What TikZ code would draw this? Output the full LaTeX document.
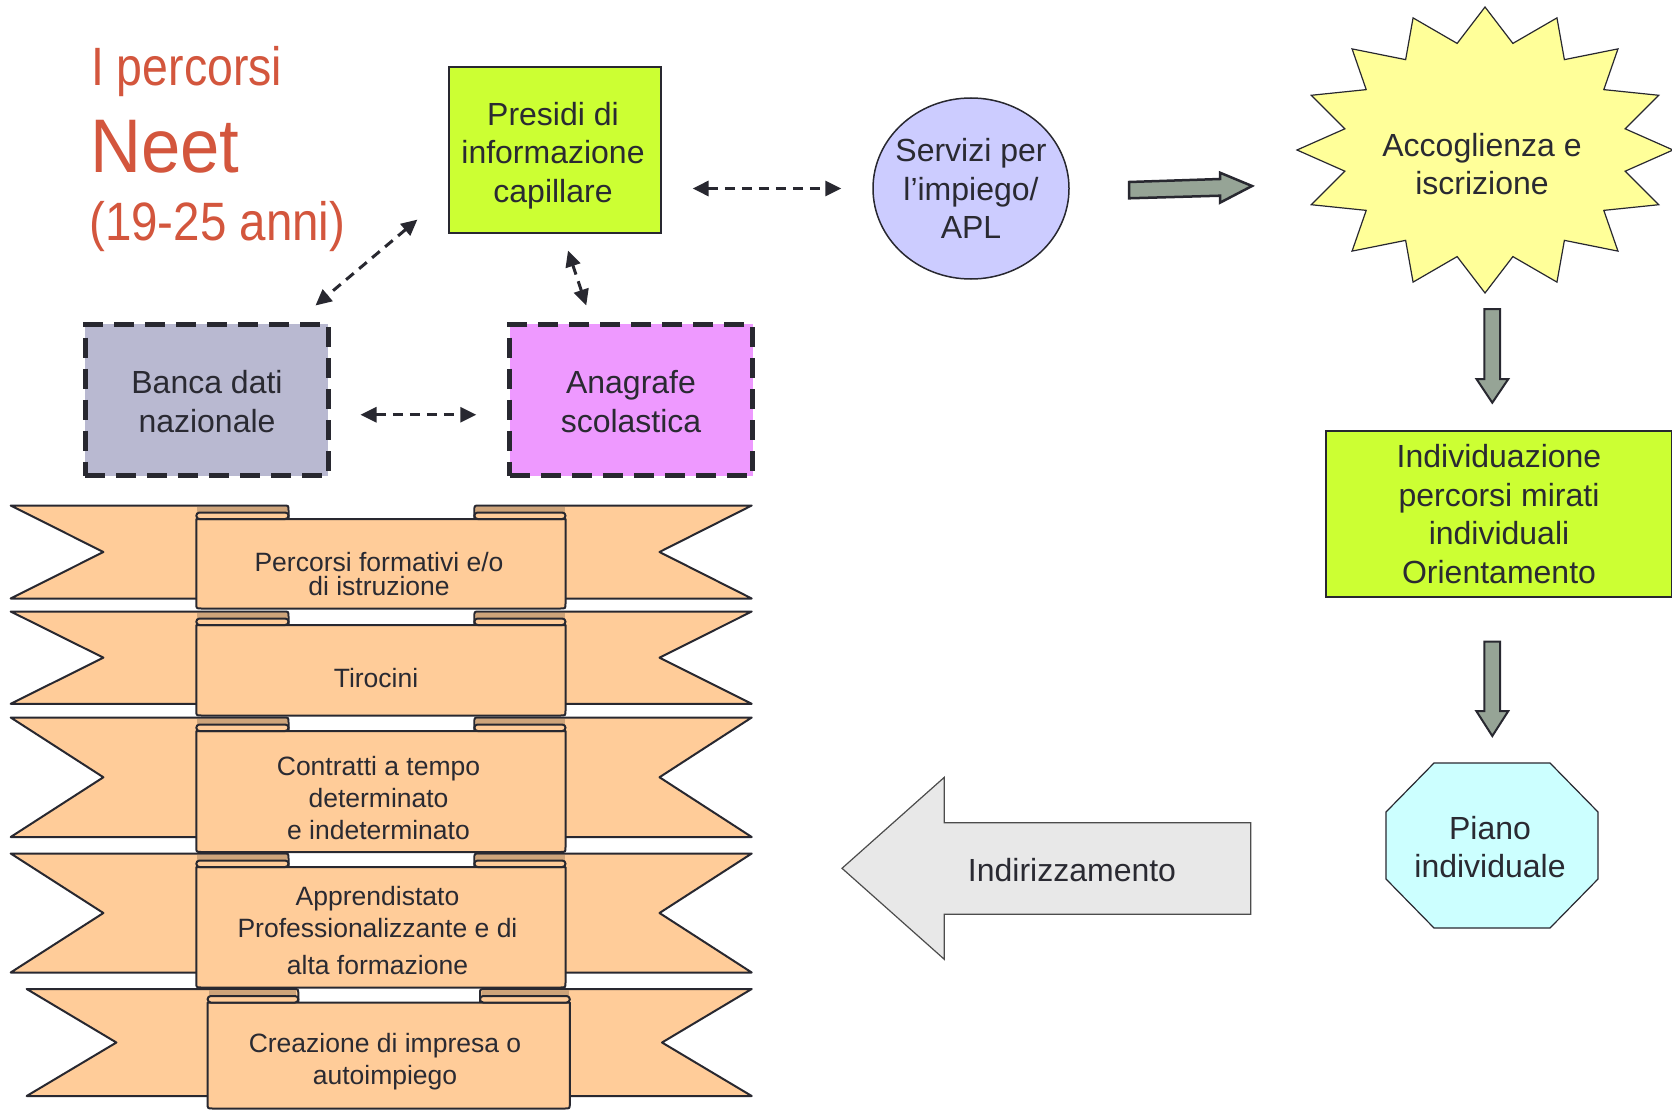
\documentclass[tikz,border=0pt]{standalone}
\usepackage{fontspec}
\setmainfont{Liberation Sans}
\newfontfamily\titlefont[FakeStretch=0.86]{Liberation Sans}
\newfontfamily\agefont[FakeStretch=0.88]{Liberation Sans}
\newfontfamily\neetfont[FakeStretch=0.93]{Liberation Sans}
\usetikzlibrary{arrows.meta,shapes.geometric}

\definecolor{txt}{RGB}{42,42,50}
\definecolor{linecol}{RGB}{40,40,48}
\definecolor{titlered}{RGB}{211,86,61}
\definecolor{lime}{RGB}{204,255,51}
\definecolor{lavender}{RGB}{204,204,255}
\definecolor{starfill}{RGB}{255,255,153}
\definecolor{bancafill}{RGB}{185,185,209}
\definecolor{anagfill}{RGB}{238,153,255}
\definecolor{pianofill}{RGB}{204,255,255}
\definecolor{indirfill}{RGB}{232,232,232}
\definecolor{blockarrow}{RGB}{150,164,150}
\definecolor{ribbonlight}{RGB}{255,204,153}
\definecolor{ribbondark}{RGB}{206,164,122}

% x positions of a ribbon: tail end, notch, panel left, fold, fold, panel right, notch, tail end
\newcommand{\ribbonxs}[8]{%
  \def\rxL{#1}\def\rnL{#2}\def\rPL{#3}\def\rFL{#4}%
  \def\rFR{#5}\def\rPR{#6}\def\rnR{#7}\def\rxR{#8}}
% one ribbon band: tail top, tail bottom, panel bottom
\newcommand{\ribbonband}[3]{%
  \pgfmathsetmacro{\rT}{#1}\pgfmathsetmacro{\rB}{#2}\pgfmathsetmacro{\rP}{#3}%
  \pgfmathsetmacro{\rM}{(#1+#2)/2}%
  \pgfmathsetmacro{\rR}{#1+7}\pgfmathsetmacro{\rQ}{#1+13.5}%
  % tails
  \draw[ribbonface] (\rxL,\rT) -- ({\rFL-5},\rT) .. controls (\rFL,\rT) .. (\rFL,{\rT+5})
     -- (\rFL,\rB) -- (\rxL,\rB) -- (\rnL,\rM) -- cycle;
  \draw[ribbonface] (\rxR,\rT) -- ({\rFR+5},\rT) .. controls (\rFR,\rT) .. (\rFR,{\rT+5})
     -- (\rFR,\rB) -- (\rxR,\rB) -- (\rnR,\rM) -- cycle;
  % back side of the folds
  \fill[ribbondark] ({\rPL+1},{\rT+1.2}) rectangle ({\rFL-2},\rR);
  \fill[ribbondark] ({\rFR+2},{\rT+1.2}) rectangle ({\rPR-1},\rR);
  % front panel
  \draw[ribbonface] (\rPL,\rQ) -- (\rPL,{\rP-5}) .. controls (\rPL,\rP) .. ({\rPL+5},\rP)
     -- ({\rPR-5},\rP) .. controls (\rPR,\rP) .. (\rPR,{\rP-5}) -- (\rPR,\rQ) -- cycle;
  % rolled top edges
  \draw[ribbonface, rounded corners=3.2] (\rPL,\rR) rectangle (\rFL,\rQ);
  \draw[ribbonface, rounded corners=3.2] (\rFR,\rR) rectangle (\rPR,\rQ);
}

\begin{document}
\begin{tikzpicture}[x=1pt,y=-1pt,
  every node/.style={text=txt},
  label32/.style={font=\fontsize{32}{38.4}\selectfont, align=center, inner sep=0},
  ribtext/.style={font=\fontsize{26.5}{32}\selectfont, align=center, inner sep=0},
  titletext/.style={text=titlered, inner sep=0, anchor=base west},
  plainbox/.style={draw=linecol, line width=1.2pt, fill=lime, inner sep=0},
  dashbox/.style={draw=linecol, line width=5pt, dash pattern=on 20pt off 11pt,
    inner sep=0, minimum width=243, minimum height=151.5},
  dasharrow/.style={draw=linecol, line width=3pt, dash pattern=on 10pt off 7pt,
    {Triangle[length=16pt,width=15pt]}-{Triangle[length=16pt,width=15pt]}},
  blockarr/.style={draw=linecol, line width=2.5pt, fill=blockarrow, line join=miter},
  ribbonface/.style={draw=linecol, line width=2pt, fill=ribbonlight, line join=round},
  thinshape/.style={draw=linecol, line width=1.2pt}
]
\useasboundingbox (0,0) rectangle (1672,1110);
\clip (0,0) rectangle (1672,1110);
\fill[white] (0,0) rectangle (1672,1110);

% title
\node[titletext, font=\titlefont\fontsize{54}{60}\selectfont] (t1) at (91,86) {I percorsi};
\node[titletext, font=\neetfont\fontsize{76}{80}\selectfont] (t2) at (90,172.7) {Neet};
\node[titletext, font=\agefont\fontsize{54}{60}\selectfont] (t3) at (89,240.7) {(19-25 anni)};

% upper left group
\node[plainbox, minimum width=212, minimum height=166] (presidi) at (555,150) {};
\node[label32] (presiditext) at (553,155.5) {Presidi di\\informazione\\capillare};
\node[thinshape, label32, ellipse, fill=lavender, line width=1.5pt,
  inner xsep=-12pt, inner ysep=0pt,
  minimum width=196, minimum height=181] (servizi) at (971,188.5)
  {Servizi per\\l’impiego/\\APL};
\node[dashbox, fill=bancafill] (banca) at (206.5,399.75) {};
\node[label32] (bancatext) at (207,401.5) {Banca dati\\nazionale};
\node[dashbox, fill=anagfill] (anagrafe) at (631.25,399.75) {};
\node[label32] (anagrafetext) at (631,401.5) {Anagrafe\\scolastica};

\draw[dasharrow, shorten <=31pt, shorten >=31pt] (presidi.east |- servizi.west) -- (servizi.west);
\draw[dasharrow] ([shift={(-31,-14)}]presidi.south west) -- ([shift={(-15,-16)}]banca.north east);
\draw[dasharrow] ([shift={(13,17)}]presidi.south) -- ([shift={(-45,-16)}]anagrafe.north);
\draw[dasharrow] ([shift={(30,15)}]banca.east) -- ([shift={(-31,15)}]anagrafe.west);

% right column
\draw[thinshape, fill=starfill] (1485,7)
  \foreach \i in {0,...,15} {
    -- ({1485+0.76*188*cos(78.75-22.5*\i)},{150-0.76*143*sin(78.75-22.5*\i)})
    -- ({1485+188*cos(67.5-22.5*\i)},{150-143*sin(67.5-22.5*\i)})
  } -- cycle;
\node[label32] (accoglienza) at (1482,164) {Accoglienza e\\iscrizione};

\draw[blockarr] (1129,182) -- (1220,179) -- (1220,172.7) -- (1252,186) -- (1220,202.7)
  -- (1220,195.7) -- (1129,198.3) -- cycle;

\draw[blockarr, line width=2pt] (1484.3,309) -- (1500,309) -- (1500,379) -- (1508.3,379)
  -- (1492.3,402.7) -- (1476.5,379) -- (1484.3,379) -- cycle;

\node[plainbox, label32, minimum width=346, minimum height=166] (individuazione) at (1499,514)
  {Individuazione\\percorsi mirati\\individuali\\Orientamento};

\draw[blockarr, line width=2pt] (1484.3,641.7) -- (1500,641.7) -- (1500,711) -- (1508.3,711)
  -- (1492.3,736) -- (1476.3,711) -- (1484.3,711) -- cycle;

\draw[thinshape, fill=pianofill] (1434,763) -- (1550,763) -- (1598,812) -- (1598,879)
  -- (1550,928) -- (1434,928) -- (1386,879) -- (1386,812) -- cycle;
\node[label32] (piano) at (1490,847) {Piano\\individuale};

\draw[draw=black!70, line width=1.2pt, fill=indirfill] (842,868.3) -- (944.3,777.3) -- (944.3,822.7)
  -- (1250.7,822.7) -- (1250.7,914.3) -- (944.3,914.3) -- (944.3,959.3) -- cycle;
\node[label32] (indirizzamento) at (1072,870) {Indirizzamento};

% ribbons
\ribbonxs{10.7}{103.4}{196.3}{288.5}{474.4}{565.5}{659.5}{751.7}
\ribbonband{505.5}{598.5}{608.5}
\node[ribtext] (rib1) at (379,574) {Percorsi formativi e/o\\[-8.6pt]di istruzione};
\ribbonband{611.5}{703.8}{715.5}
\node[ribtext] (rib2) at (376,678) {Tirocini};
\ribbonband{717.5}{837}{852}
\node[ribtext] (rib3) at (378.5,798.5) {Contratti a tempo\\determinato\\e indeterminato};
\ribbonband{853.5}{972.5}{987.5}
\node[ribtext] (rib4) at (377.5,931) {Apprendistato\\Professionalizzante e di\\[5pt]alta formazione};
\ribbonxs{26.7}{116.4}{207.6}{298.3}{480}{569.8}{662}{751.7}
\ribbonband{989}{1096}{1108.5}
\node[ribtext] (rib5) at (385,1061.5) {Creazione di impresa o\\autoimpiego};

\end{tikzpicture}
\end{document}
